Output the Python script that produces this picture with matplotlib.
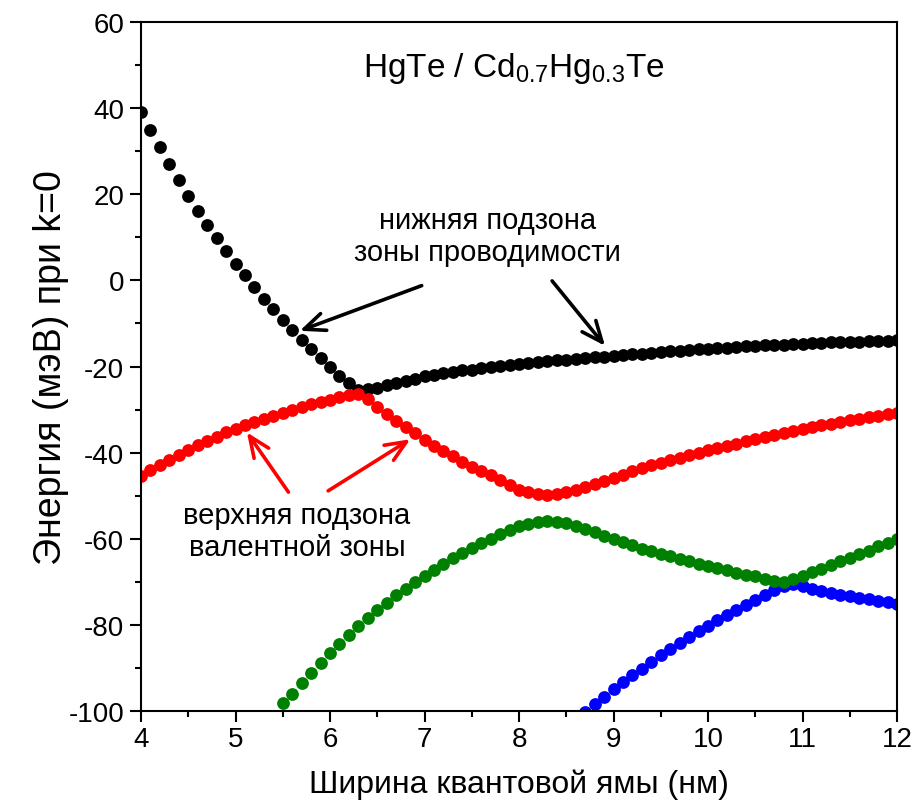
import matplotlib

matplotlib.use("Agg")

import matplotlib.pyplot as plt
from matplotlib.ticker import MultipleLocator

plt.rcParams["font.family"] = ["Liberation Sans", "DejaVu Sans"]
plt.rcParams["mathtext.fontset"] = "custom"
plt.rcParams["mathtext.rm"] = "Liberation Sans"
plt.rcParams["mathtext.it"] = "Liberation Sans:italic"
plt.rcParams["axes.unicode_minus"] = False

# quantum well width, nm
WIDTH_NM = [
    4.0, 4.1, 4.2, 4.3, 4.4, 4.5, 4.6, 4.7, 4.8, 4.9,
    5.0, 5.1, 5.2, 5.3, 5.4, 5.5, 5.6, 5.7, 5.8, 5.9,
    6.0, 6.1, 6.2, 6.3, 6.4, 6.5, 6.6, 6.7, 6.8, 6.9,
    7.0, 7.1, 7.2, 7.3, 7.4, 7.5, 7.6, 7.7, 7.8, 7.9,
    8.0, 8.1, 8.2, 8.3, 8.4, 8.5, 8.6, 8.7, 8.8, 8.9,
    9.0, 9.1, 9.2, 9.3, 9.4, 9.5, 9.6, 9.7, 9.8, 9.9,
    10.0, 10.1, 10.2, 10.3, 10.4, 10.5, 10.6, 10.7, 10.8, 10.9,
    11.0, 11.1, 11.2, 11.3, 11.4, 11.5, 11.6, 11.7, 11.8, 11.9,
    12.0,
]

# subband energies at k=0, meV
BLACK_MEV = [
    39.1, 35.0, 31.0, 27.1, 23.4, 19.7, 16.2, 13.0, 9.8, 6.8,
    3.9, 1.2, -1.6, -4.3, -6.7, -9.1, -11.5, -13.8, -16.0, -18.1,
    -20.2, -22.1, -23.8, -25.4, -25.3, -24.9, -24.3, -23.8, -23.3, -22.8,
    -22.3, -21.9, -21.5, -21.2, -20.9, -20.7, -20.4, -20.1, -19.9, -19.7,
    -19.5, -19.2, -19.0, -18.8, -18.6, -18.4, -18.2, -18.0, -17.9, -17.7,
    -17.6, -17.4, -17.2, -17.0, -16.9, -16.7, -16.5, -16.4, -16.2, -16.0,
    -15.9, -15.7, -15.6, -15.4, -15.3, -15.2, -15.1, -15.0, -14.9, -14.8,
    -14.7, -14.6, -14.5, -14.4, -14.3, -14.3, -14.2, -14.1, -14.0, -14.0,
    -13.9,
]
RED_MEV = [
    -45.4, -44.1, -42.9, -41.7, -40.5, -39.3, -38.2, -37.2, -36.3, -35.3,
    -34.5, -33.7, -33.0, -32.2, -31.4, -30.8, -30.1, -29.5, -28.8, -28.3,
    -27.7, -27.1, -26.7, -26.3, -27.5, -29.3, -31.0, -32.6, -34.1, -35.5,
    -37.0, -38.4, -39.7, -40.9, -42.1, -43.3, -44.3, -45.3, -46.4, -47.6,
    -48.6, -49.2, -49.6, -49.8, -49.6, -49.2, -48.7, -48.0, -47.3, -46.5,
    -45.9, -45.1, -44.3, -43.6, -43.0, -42.4, -41.8, -41.2, -40.6, -40.1,
    -39.4, -38.9, -38.4, -37.9, -37.3, -36.8, -36.3, -35.9, -35.5, -34.9,
    -34.5, -34.1, -33.7, -33.3, -32.9, -32.5, -32.1, -31.7, -31.4, -31.0,
    -30.8,
]
# green starts at 5.4 nm
GREEN_FROM = 14
GREEN_MEV = [
    -101.8, -98.1, -96.0, -93.5, -91.2, -88.8,
    -86.6, -84.4, -82.3, -80.4, -78.4, -76.6, -74.9, -73.2, -71.6, -70.1,
    -68.7, -67.2, -65.8, -64.6, -63.3, -62.1, -61.0, -60.0, -58.9, -57.9,
    -57.1, -56.5, -56.2, -56.0, -56.2, -56.4, -57.1, -57.7, -58.5, -59.3,
    -60.0, -60.8, -61.6, -62.3, -62.9, -63.5, -64.1, -64.7, -65.3, -65.8,
    -66.4, -66.9, -67.4, -68.0, -68.4, -68.8, -69.4, -69.8, -70.0, -69.5,
    -68.6, -67.8, -67.0, -66.1, -65.3, -64.5, -63.5, -62.8, -61.8, -61.1,
    -60.0,
]
# blue starts at 8.6 nm
BLUE_FROM = 46
BLUE_MEV = [
    -103.2, -100.4, -98.5, -96.7,
    -95.0, -93.3, -91.7, -90.2, -88.6, -87.1, -85.7, -84.2, -82.8, -81.5,
    -80.3, -79.0, -77.8, -76.6, -75.5, -74.3, -73.2, -72.0, -71.0, -70.6,
    -71.1, -71.6, -72.2, -72.6, -73.0, -73.4, -73.7, -74.1, -74.5, -74.8,
    -75.1,
]

# drawing order: lower bands first so black/red sit on top
SERIES = [
    (BLUE_FROM, BLUE_MEV, "#0000ff"),
    (GREEN_FROM, GREEN_MEV, "#008000"),
    (0, BLACK_MEV, "black"),
    (0, RED_MEV, "#ff0000"),
]


def arrow(ax, tail, tip, color):
    ax.annotate(
        "",
        xy=tip,
        xytext=tail,
        arrowprops=dict(
            arrowstyle="->,head_length=0.75,head_width=0.32",
            mutation_scale=20,
            lw=2.6,
            color=color,
            shrinkA=0,
            shrinkB=0,
        ),
    )


fig = plt.figure(figsize=(9.17, 8.12), dpi=100)
ax = fig.add_axes([0.1538, 0.1235, 0.8244, 0.8478])

for start, values, color in SERIES:
    ax.plot(
        WIDTH_NM[start:start + len(values)],
        values,
        "o",
        ms=9.2,
        mec="none",
        color=color,
    )

ax.set_xlim(4, 12)
ax.set_ylim(-100, 60)
ax.xaxis.set_major_locator(MultipleLocator(1))
ax.xaxis.set_minor_locator(MultipleLocator(0.5))
ax.yaxis.set_major_locator(MultipleLocator(20))
ax.yaxis.set_minor_locator(MultipleLocator(10))
ax.tick_params(which="both", direction="out", width=1.5, labelsize=20)
ax.tick_params(axis="x", pad=3)
ax.tick_params(axis="y", pad=4)
ax.tick_params(which="major", length=8)
ax.tick_params(which="minor", length=4.5)
for spine in ax.spines.values():
    spine.set_linewidth(1.5)

ax.set_xlabel("Ширина квантовой ямы (нм)", fontsize=23, labelpad=12)
ax.set_ylabel("Энергия (мэВ) при k=0", fontsize=27, labelpad=0)

ax.text(7.94, 47.6, "HgTe / Cd$_{0.7}$Hg$_{0.3}$Te", fontsize=24,
        ha="center", va="baseline")
ax.text(7.67, 10.3, "нижняя подзона\nзоны проводимости", fontsize=21,
        ha="center", va="center", linespacing=1.2)
ax.text(5.65, -58.2, "верхняя подзона\nвалентной зоны", fontsize=21,
        ha="center", va="center", linespacing=1.2)

arrow(ax, (6.97, -1.2), (5.68, -11.7), "black")
arrow(ax, (8.35, -0.1), (8.91, -15.2), "black")
arrow(ax, (5.56, -49.2), (5.12, -35.3), "#ff0000")
arrow(ax, (5.98, -48.9), (6.85, -36.9), "#ff0000")

fig.savefig("out.png", dpi=100)
